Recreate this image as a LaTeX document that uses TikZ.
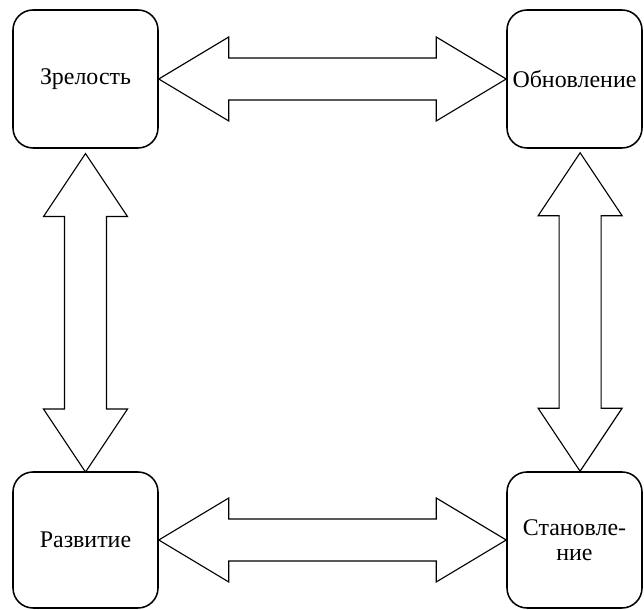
\documentclass[tikz,border=0pt]{standalone}
\usepackage{fontspec}
\setmainfont{Liberation Serif}
\usetikzlibrary{calc}
\tikzset{
  stage/.style={draw, line width=1.1pt, rounded corners=0.5cm, inner sep=0pt, align=center,
    minimum height=3.45cm, font=\fontsize{17}{18}\selectfont},
  blockarrow/.style={draw, line width=0.8pt, line join=miter}
}
% block arrows with two heads, ends given as points
\def\harrow(#1)(#2){\draw[blockarrow] (#1) -- ($(#1)+(1.75,1.05)$) -- ($(#1)+(1.75,0.525)$) -- ($(#2)+(-1.75,0.525)$) -- ($(#2)+(-1.75,1.05)$) -- (#2) -- ($(#2)+(-1.75,-1.05)$) -- ($(#2)+(-1.75,-0.525)$) -- ($(#1)+(1.75,-0.525)$) -- ($(#1)+(1.75,-1.05)$) -- cycle;}
\def\varrow(#1)(#2){\draw[blockarrow] (#1) -- ($(#1)+(1.05,-1.575)$) -- ($(#1)+(0.525,-1.575)$) -- ($(#2)+(0.525,1.575)$) -- ($(#2)+(1.05,1.575)$) -- (#2) -- ($(#2)+(-1.05,1.575)$) -- ($(#2)+(-0.525,1.575)$) -- ($(#1)+(-0.525,-1.575)$) -- ($(#1)+(-1.05,-1.575)$) -- cycle;}

\begin{document}
\begin{tikzpicture}
		%%%%% START %%%%%
		\useasboundingbox (0, 0) rectangle (16.1, 15.25);
		
		\node[stage, minimum width=3.625cm] (zrelost) at (2.1375, 13.275) {Зрелость};
		\node[stage, minimum width=3.375cm] (obnovl) at (14.3625, 13.275) {Обновление};
		\node[stage, minimum width=3.625cm, minimum height=3.4cm] (razvit) at (2.1375, 1.75) {Развитие};
		\node[stage, minimum width=3.375cm, minimum height=3.4cm] (stanovl) at (14.3625, 1.75) {Становле-\\ние};
		
		\coordinate (zrelostS) at ($(zrelost.south)+(0, -0.12)$);
		\coordinate (razvitN) at ($(razvit.north)+(0, -0.02)$);
		\coordinate (obnovlS) at ($(obnovl.south)+(0.14, -0.1)$);
		\coordinate (stanovlN) at ($(stanovl.north)+(0.14, 0)$);
		
		\harrow(zrelost.east)(obnovl.west)
		\harrow(razvit.east)(stanovl.west)
		\varrow(zrelostS)(razvitN)
		\varrow(obnovlS)(stanovlN)
		%%%%% END %%%%%
\end{tikzpicture}
\end{document}
